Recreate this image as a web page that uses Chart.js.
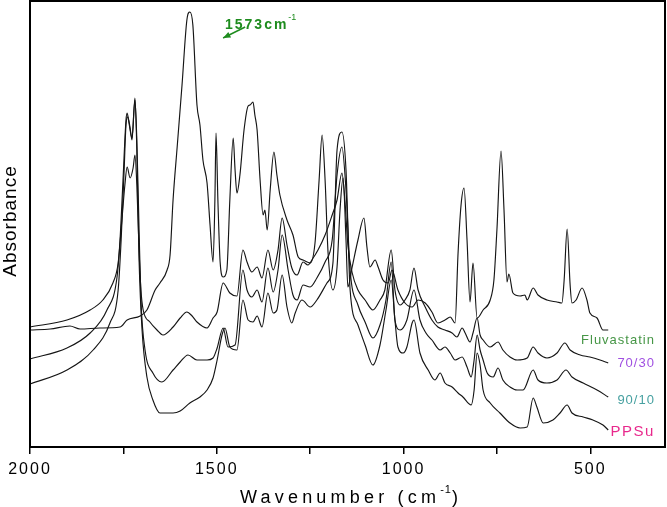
<!DOCTYPE html>
<html><head><meta charset="utf-8">
<script src="https://cdn.jsdelivr.net/npm/chart.js@4.4.1/dist/chart.umd.min.js"></script>
<style>html,body{margin:0;padding:0;background:#fff}canvas{display:block}</style>
</head><body>
<canvas id="c" width="667" height="507"></canvas>
<script>
// Wavenumbers (cm-1) and absorbance (arbitrary units)
const fluvWn = [2000,1946,1893,1866,1813,1759,1740,1705,1687,1665,1652,1633,1625,1617,1606,1593,1580,1572,1564,1553,1545,1537,1526,1518,1510,1505,1502,1497,1491,1483,1473,1465,1456,1451,1446,1438,1427,1416,1411,1403,1398,1392,1384,1376,1371,1365,1357,1347,1339,1331,1312,1296,1282,1269,1250,1237,1226,1218,1210,1202,1189,1178,1170,1162,1154,1149,1138,1122,1106,1098,1090,1076,1068,1055,1041,1031,1015,996,977,961,942,924,908,889,875,862,854,846,838,830,822,814,803,787,768,758,750,739,731,723,718,707,688,675,669,653,640,616,589,576,570,562,554,549,538,522,509,501,482,466,452];
const fluvAbs = [117,118,121,118,119,120,127,131,137,157,164,177,192,247,300,362,427,435,422,342,322,287,264,222,185,247,314,247,185,170,177,247,309,277,254,272,317,341,342,345,332,317,267,232,237,217,257,295,272,252,227,212,190,187,184,204,267,312,267,194,157,180,237,269,207,160,179,207,229,200,180,187,180,167,164,177,157,144,140,147,144,135,124,127,130,124,194,242,259,207,145,184,129,137,147,167,217,296,237,165,173,154,151,152,147,159,152,147,145,144,167,218,162,144,147,159,147,134,129,117,117];

const b7030Wn = [2000,1901,1839,1805,1778,1764,1754,1746,1740,1732,1724,1719,1714,1708,1703,1697,1679,1660,1644,1617,1598,1580,1566,1553,1526,1510,1499,1483,1465,1446,1430,1419,1406,1392,1379,1363,1349,1336,1325,1312,1299,1285,1269,1256,1242,1229,1210,1191,1178,1165,1157,1149,1138,1122,1103,1082,1063,1050,1033,1023,1009,996,983,972,961,942,924,908,889,870,857,843,835,822,814,803,795,787,768,747,734,715,696,669,653,640,616,589,568,554,527,501,474,452];
const b7030Abs = [120,127,137,147,164,184,227,262,280,269,279,292,262,197,157,137,125,117,112,120,129,135,131,125,119,129,135,164,154,151,197,185,175,180,169,197,177,197,229,202,179,172,185,182,189,197,212,232,247,274,247,202,175,157,147,137,147,157,197,157,142,147,157,179,157,140,127,120,117,114,110,119,114,105,114,129,112,107,100,105,97,90,87,89,100,94,89,94,104,97,92,90,87,84];

const b9010Wn = [2000,1901,1839,1794,1767,1759,1751,1743,1740,1735,1727,1719,1714,1708,1703,1692,1671,1647,1617,1598,1577,1553,1526,1510,1499,1483,1470,1451,1430,1419,1406,1392,1379,1363,1349,1336,1325,1309,1296,1285,1269,1250,1232,1210,1191,1178,1165,1154,1143,1122,1103,1082,1063,1047,1033,1023,1009,991,972,956,940,924,902,889,875,862,843,830,819,811,803,795,787,776,760,747,734,715,696,680,653,640,616,589,565,549,519,482,452];
const b9010Abs = [88,99,114,137,170,207,267,327,334,324,309,347,307,217,147,97,74,65,77,85,92,87,87,89,99,119,100,102,177,157,150,157,145,179,155,177,212,177,152,147,162,160,169,185,207,272,300,257,177,142,125,109,122,147,185,127,117,127,157,127,114,107,97,100,94,87,90,80,70,87,112,97,87,74,70,79,67,60,57,57,77,67,64,67,77,70,64,57,50];

const ppsuWn = [2000,1901,1831,1786,1764,1756,1748,1743,1738,1732,1727,1719,1714,1708,1700,1687,1671,1652,1617,1598,1572,1545,1526,1510,1499,1486,1478,1465,1446,1430,1416,1403,1392,1379,1363,1349,1339,1325,1312,1299,1290,1272,1250,1232,1205,1189,1178,1165,1154,1143,1122,1103,1082,1063,1047,1033,1023,1015,1001,991,977,972,956,934,916,902,889,870,854,841,819,811,803,795,787,768,742,715,688,669,653,643,626,600,581,562,549,519,493,466,452];
const ppsuAbs = [63,77,97,124,157,207,277,322,330,319,307,349,297,187,117,70,47,34,34,36,44,50,57,69,87,112,119,100,97,147,127,125,131,120,154,134,137,172,140,124,134,147,140,147,164,184,297,315,277,157,122,102,82,102,137,167,127,100,94,100,124,127,94,77,67,74,64,60,54,50,42,57,94,82,57,44,34,24,19,20,49,40,24,27,34,42,34,30,27,22,17];

const seriesNames = ['Fluvastatin','70/30','90/10','PPSu'];
const labelColors = ['rgb(70,150,70)','rgb(160,80,225)','rgb(70,160,160)','rgb(232,40,140)'];
const labelAnchorWn = 327;
const labelAnchorAbs = [107, 84, 47, 15];
const xTickValues = [2000,1750,1500,1250,1000,750,500];
const xTickLabels = ['2000','','1500','','1000','','500'];
const annotText = '1573';
const annotAt = {wn:1478, abs:418};
const arrowFrom = {wn:1424, abs:420};
const arrowTo = {wn:1483, abs:409};

function pts(w,a){ return w.map((v,i)=>({x:v,y:a[i]})); }
const FONT = "'Liberation Sans', Arial, sans-serif";

const overlay = {
  id:'overlay',
  beforeDraw(chart){ chart.ctx.letterSpacing='2px'; },
  beforeDatasetsDraw(chart){ chart.ctx.letterSpacing='0px'; },
  afterDraw(chart){
    const ctx = chart.ctx, xs = chart.scales.x, ys = chart.scales.y, a = chart.chartArea;
    ctx.save();
    // frame
    ctx.strokeStyle='#000'; ctx.lineWidth=2;
    ctx.strokeRect(a.left, a.top, a.right-a.left, a.bottom-a.top);
    // y title
    ctx.save();
    ctx.translate(11, 221); ctx.rotate(-Math.PI/2);
    ctx.font = '19px '+FONT; ctx.letterSpacing='1px';
    ctx.textAlign='center'; ctx.textBaseline='middle'; ctx.fillStyle='#000';
    ctx.fillText('Absorbance',0,0);
    ctx.restore();
    // x title
    ctx.fillStyle='#000'; ctx.textAlign='left'; ctx.textBaseline='alphabetic';
    ctx.font='18px '+FONT; ctx.letterSpacing='4.2px';
    let x0=240, yb=503;
    ctx.fillText('Wavenumber (cm', x0, yb);
    let w = ctx.measureText('Wavenumber (cm').width;
    ctx.font='11px '+FONT; ctx.letterSpacing='1px';
    ctx.fillText('-1', x0+w, 493);
    let w2 = ctx.measureText('-1').width;
    ctx.font='18px '+FONT; ctx.letterSpacing='4.2px';
    ctx.fillText(')', x0+w+w2, yb);
    // annotation
    const green='rgb(30,140,30)';
    ctx.fillStyle=green; ctx.strokeStyle=green;
    ctx.font='bold 14px '+FONT; ctx.letterSpacing='2px';
    const tx = xs.getPixelForValue(annotAt.wn), ty = ys.getPixelForValue(annotAt.abs);
    ctx.fillText(annotText+'cm', tx, ty);
    const tw = ctx.measureText(annotText+'cm').width;
    ctx.font='9px '+FONT; ctx.letterSpacing='0px';
    ctx.fillText('-1', tx+tw, ty-9);
    const ax1=xs.getPixelForValue(arrowFrom.wn), ay1=ys.getPixelForValue(arrowFrom.abs);
    const ax2=xs.getPixelForValue(arrowTo.wn), ay2=ys.getPixelForValue(arrowTo.abs);
    ctx.lineWidth=1.5;
    ctx.beginPath(); ctx.moveTo(ax1,ay1); ctx.lineTo(ax2,ay2); ctx.stroke();
    const ang=Math.atan2(ay2-ay1, ax2-ax1);
    ctx.beginPath();
    ctx.moveTo(ax2,ay2);
    ctx.lineTo(ax2-8*Math.cos(ang-0.4), ay2-8*Math.sin(ang-0.4));
    ctx.lineTo(ax2-8*Math.cos(ang+0.4), ay2-8*Math.sin(ang+0.4));
    ctx.closePath(); ctx.fill();
    // series labels
    ctx.textAlign='right'; ctx.textBaseline='middle';
    const lx = xs.getPixelForValue(labelAnchorWn);
    seriesNames.forEach((n,i)=>{
      ctx.fillStyle=labelColors[i];
      if(i===3){ ctx.font='15px '+FONT; ctx.letterSpacing='1.5px'; }
      else { ctx.font='13px '+FONT; ctx.letterSpacing='1px'; }
      ctx.fillText(n, lx, ys.getPixelForValue(labelAnchorAbs[i]));
    });
    ctx.restore();
  }
};

const lineStyle = {borderColor:'#151515', borderWidth:1.15, pointRadius:0, cubicInterpolationMode:'monotone', fill:false};

new Chart(document.getElementById('c'), {
  type:'line',
  data:{datasets:[
    {label:seriesNames[0], data:pts(fluvWn,fluvAbs), ...lineStyle},
    {label:seriesNames[1], data:pts(b7030Wn,b7030Abs), ...lineStyle},
    {label:seriesNames[2], data:pts(b9010Wn,b9010Abs), ...lineStyle},
    {label:seriesNames[3], data:pts(ppsuWn,ppsuAbs), ...lineStyle}
  ]},
  options:{
    responsive:false, animation:false, devicePixelRatio:1,
    layout:{padding:{top:1,right:2,left:0,bottom:0}},
    plugins:{legend:{display:false}, tooltip:{enabled:false}},
    scales:{
      x:{type:'linear', reverse:true, min:300, max:2000,
        afterBuildTicks(s){ s.ticks = xTickValues.map(v=>({value:v})); },
        afterFit(s){ s.height=60; },
        border:{display:false},
        grid:{drawOnChartArea:false, drawTicks:true, tickLength:7, color:'#000', lineWidth:1.5},
        ticks:{autoSkip:false, maxRotation:0, padding:6,
          color:'#000', font:{family:FONT, size:16},
          callback:(v)=> xTickLabels[xTickValues.indexOf(v)] || ''}
      },
      y:{type:'linear', min:0, max:446,
        afterFit(s){ s.width=30; },
        border:{display:false}, grid:{display:false}, ticks:{display:false}
      }
    }
  },
  plugins:[overlay]
});
</script>
</body></html>
